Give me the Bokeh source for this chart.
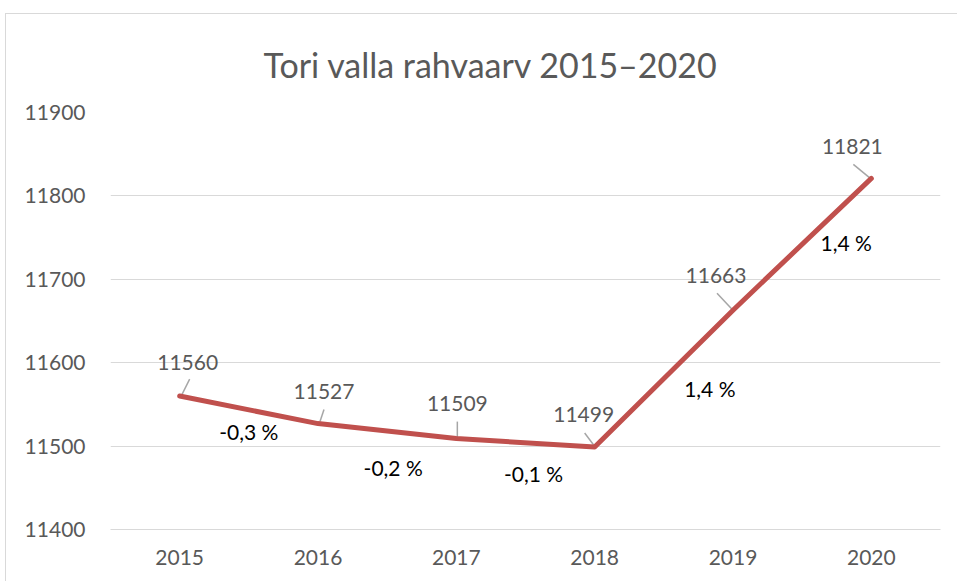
from bokeh.plotting import figure
from bokeh.models import FixedTicker, ColumnDataSource
from bokeh.core.properties import value
from bokeh.embed import file_html
from bokeh.resources import INLINE

# ---- data ----
years = ["2015", "2016", "2017", "2018", "2019", "2020"]
population = [11560, 11527, 11509, 11499, 11663, 11821]
change_labels = ["-0,3 %", "-0,2 %", "-0,1 %", "1,4 %", "1,4 %"]
y_ticks = [11400, 11500, 11600, 11700, 11800, 11900]

# ---- layout / style (pixel offsets) ----
FONT = "Lato"
GREY = "#595959"
LINE_COLOR = "#C0504D"
val_dx = [8, 6, 1, -11, -17, -19]
val_dy = [34, 32, 35, 32, 35, 32]
pct_dx = [0, 6, 8, 46, 44]
pct_dy = [-22, -36, -31, -10, 2]
# leader lines: (start dx, start dy, end dx, end dy) in pixels, y up
lead = [(2, 1, 10, 17), (2, 2, 6, 14), (1, 1, 1, 17), (-1, 2, -10, 14), (-1, 1, -16, 17), (-1, 0, -18, 14)]

FRAME_W, FRAME_H = 830, 417
XR = (-0.5, 5.5)
YR = (11400, 11900)
px_x = FRAME_W / (XR[1] - XR[0])
px_y = FRAME_H / (YR[1] - YR[0])

xs = list(range(len(years)))

p = figure(width=952, height=568, x_range=XR, y_range=YR,
           output_backend="svg", toolbar_location=None,
           min_border_left=104, min_border_right=18,
           min_border_top=97, min_border_bottom=53)
p.margin = (13, 0, 0, 5)
p.styles = {"border-left": "1px solid #d9d9d9", "border-top": "1px solid #d9d9d9"}

p.title.text = "Tori valla rahvaarv 2015\u20132020"
p.title.align = "left"
p.title.offset = 153
p.title.standoff = 55
p.title.text_font = FONT
p.title.text_font_size = "34px"
p.title.text_font_style = "normal"
p.title.text_color = GREY

p.outline_line_color = None
p.background_fill_color = "white"
p.border_fill_color = "white"

p.xgrid.grid_line_color = None
p.ygrid.grid_line_color = "#d9d9d9"
p.ygrid.grid_line_width = 1

p.yaxis.ticker = FixedTicker(ticks=y_ticks)
p.xaxis.ticker = FixedTicker(ticks=xs)
p.xaxis.major_label_overrides = {i: y for i, y in enumerate(years)}
for ax in (p.xaxis, p.yaxis):
    ax.axis_line_color = None
    ax.major_tick_line_color = None
    ax.minor_tick_line_color = None
    ax.major_label_text_font = FONT
    ax.major_label_text_font_size = "21px"
    ax.major_label_text_color = GREY
p.yaxis.major_label_standoff = 19
p.xaxis.major_label_standoff = 14
p.xaxis.axis_line_color = "#d9d9d9"

# leader lines
lx0, ly0, lx1, ly1 = [], [], [], []
for i, l in enumerate(lead):
    if l is None:
        continue
    lx0.append(xs[i] + l[0] / px_x)
    ly0.append(population[i] + l[1] / px_y)
    lx1.append(xs[i] + l[2] / px_x)
    ly1.append(population[i] + l[3] / px_y)
p.segment(lx0, ly0, lx1, ly1, line_color="#a6a6a6", line_width=1.5)

p.line(xs, population, line_color=LINE_COLOR, line_width=5, line_join="round", line_cap="round")

src = ColumnDataSource(dict(x=xs, y=population, t=[str(v) for v in population],
                            dx=val_dx, dy=[-d for d in val_dy]))
p.text(x="x", y="y", text="t", x_offset="dx", y_offset="dy", source=src,
       text_font=value(FONT), text_font_size="21px", text_color=GREY,
       text_align="center", text_baseline="middle")

mx = [(xs[i] + xs[i + 1]) / 2 for i in range(len(change_labels))]
my = [(population[i] + population[i + 1]) / 2 for i in range(len(change_labels))]
src2 = ColumnDataSource(dict(x=mx, y=my, t=change_labels, dx=pct_dx, dy=[-d for d in pct_dy]))
p.text(x="x", y="y", text="t", x_offset="dx", y_offset="dy", source=src2,
       text_font=value(FONT), text_font_size="21px", text_color="black",
       text_align="center", text_baseline="middle")

open("out.html", "w").write(file_html(p, INLINE))
